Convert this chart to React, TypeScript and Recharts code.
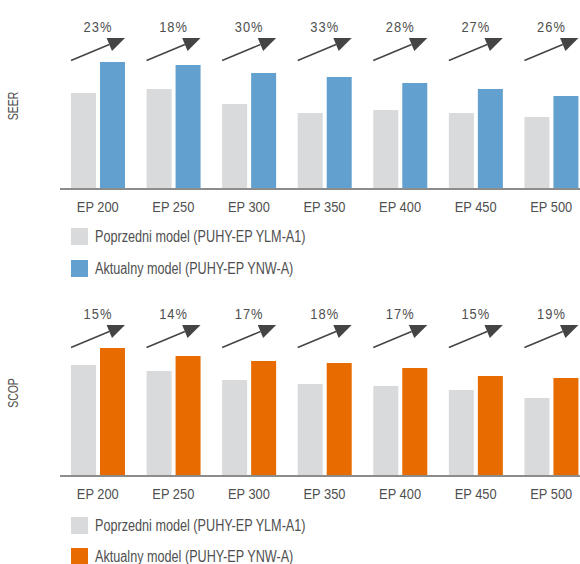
import { BarChart, Bar, XAxis, YAxis, LabelList } from "recharts";

const categories = ["EP 200", "EP 250", "EP 300", "EP 350", "EP 400", "EP 450", "EP 500"];

// SEER (relative units)
const seerPrevious = [96, 100, 85, 76, 79, 76, 72];
const seerCurrent = [127, 124, 116, 112, 106, 100, 93];
const seerGain = ["23%", "18%", "30%", "33%", "28%", "27%", "26%"];

// SCOP
const scopPrevious = [111, 105, 96, 92, 90, 86, 78];
const scopCurrent = [128, 120, 115, 113, 108, 100, 98];
const scopGain = ["15%", "14%", "17%", "18%", "17%", "15%", "19%"];

const legendPrevious = "Poprzedni model (PUHY-EP YLM-A1)";
const legendCurrent = "Aktualny model (PUHY-EP YNW-A)";

// Liberation Sans squeezed horizontally ~ a condensed Helvetica
const FONT = "'Liberation Sans', Arial, sans-serif";
const TEXT = "#4f4f4f";
const GREY = "#d9dadb";
const BLUE = "#62a0cf";
const ORANGE = "#e86b00";

const CHART_W = 589;
const CHART_H = 215;
const PLOT_TOP = 40;
const BAR = 25;
const GAP = 4;

function buildRows(prev: number[], cur: number[]) {
  return categories.map((name, i) => ({ name, prev: prev[i], cur: cur[i] }));
}

function NarrowText({
  x,
  y,
  size,
  squeeze,
  rotate = 0,
  spacing = 0,
  children,
}: {
  x: number;
  y: number;
  size: number;
  squeeze: number;
  rotate?: number;
  spacing?: number;
  children: React.ReactNode;
}) {
  return (
    <text
      transform={`translate(${x} ${y}) rotate(${rotate}) scale(${squeeze} 1)`}
      x={0}
      y={0}
      textAnchor="middle"
      dominantBaseline="central"
      fontSize={size}
      fill={TEXT}
      fontFamily={FONT}
      letterSpacing={spacing}
    >
      {children}
    </text>
  );
}

// ── Arrow + percentage above each pair ──────────────────────────────────────

function GainArrow(props: any, gains: string[]) {
  const { x, width, index } = props;
  const x0 = Number(x);
  const x1 = x0 + Number(width) * 2 + GAP;
  const y0 = PLOT_TOP + 20.5;
  const y1 = PLOT_TOP - 2;
  const ang = Math.atan2(y1 - y0, x1 - x0);
  const len = 17;
  const half = 7;
  const bx = x1 - len * Math.cos(ang);
  const by = y1 - len * Math.sin(ang);
  const px = -Math.sin(ang) * half;
  const py = Math.cos(ang) * half;
  return (
    <g key={`gain-${index}`}>
      <line x1={x0} y1={y0} x2={bx} y2={by} stroke="#444" strokeWidth={1.5} />
      <polygon points={`${x1},${y1} ${bx + px},${by + py} ${bx - px},${by - py}`} fill="#444" />
      <NarrowText x={(x0 + x1) / 2} y={PLOT_TOP - 13} size={15} squeeze={0.86} spacing={1.2}>
        {gains[index]}
      </NarrowText>
    </g>
  );
}

function Tick({ x, y, payload }: any) {
  return (
    <NarrowText x={Number(x)} y={Number(y) + 16} size={14} squeeze={0.92}>
      {payload.value}
    </NarrowText>
  );
}

interface PanelProps {
  title: string;
  prev: number[];
  cur: number[];
  gains: string[];
  color: string;
  top: number;
}

function Panel({ title, prev, cur, gains, color, top }: PanelProps) {
  const data = buildRows(prev, cur);
  return (
    <div style={{ position: "absolute", left: 0, top, width: CHART_W, height: CHART_H }}>
      <BarChart
        width={CHART_W}
        height={CHART_H}
        data={data}
        margin={{ top: PLOT_TOP, right: 0, left: 0, bottom: 0 }}
        barGap={GAP}
        barSize={BAR}
      >
        <XAxis
          dataKey="name"
          height={26}
          tickLine={false}
          tickSize={0}
          tick={<Tick />}
          axisLine={{ stroke: "#8c8c8c", strokeWidth: 2 }}
          interval={0}
        />
        <YAxis
          width={60}
          domain={[0, 149]}
          tick={false}
          tickLine={false}
          axisLine={false}
          label={{
            content: (p: any) => {
              const vb = p.viewBox || {};
              return (
                <NarrowText x={vb.x + 13} y={vb.y + vb.height / 2 - 8.5} size={15} squeeze={0.7} rotate={-90}>
                  {title}
                </NarrowText>
              );
            },
          }}
        />
        <Bar dataKey="prev" fill={GREY} isAnimationActive={false}>
          <LabelList dataKey="prev" content={(p: any) => GainArrow(p, gains)} />
        </Bar>
        <Bar dataKey="cur" fill={color} isAnimationActive={false} />
      </BarChart>
    </div>
  );
}

function LegendRow({ color, label, top }: { color: string; label: string; top: number }) {
  return (
    <div style={{ position: "absolute", left: 71, top, height: 17, display: "flex", alignItems: "center" }}>
      <span style={{ width: 17, height: 17, background: color, display: "inline-block", flexShrink: 0 }} />
      <span
        style={{
          marginLeft: 7,
          fontSize: 16,
          color: TEXT,
          fontFamily: FONT,
          whiteSpace: "nowrap",
          display: "inline-block",
          transform: "scaleX(0.79)",
          transformOrigin: "left center",
        }}
      >
        {label}
      </span>
    </div>
  );
}

export default function App() {
  return (
    <div
      style={{
        position: "absolute",
        left: 0,
        top: 0,
        width: 580,
        height: 564,
        overflow: "hidden",
        background: "#fff",
      }}
    >
      <Panel title="SEER" prev={seerPrevious} cur={seerCurrent} gains={seerGain} color={BLUE} top={0} />
      <LegendRow color={GREY} label={legendPrevious} top={228} />
      <LegendRow color={BLUE} label={legendCurrent} top={260} />

      <Panel title="SCOP" prev={scopPrevious} cur={scopCurrent} gains={scopGain} color={ORANGE} top={287} />
      <LegendRow color={GREY} label={legendPrevious} top={517} />
      <LegendRow color={ORANGE} label={legendCurrent} top={548} />
    </div>
  );
}
